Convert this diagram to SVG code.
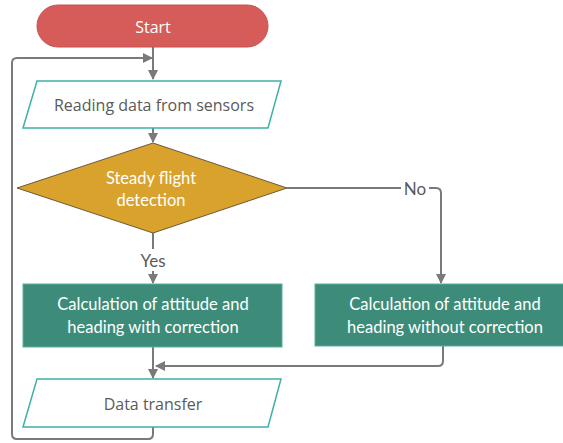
<svg xmlns="http://www.w3.org/2000/svg" width="563" height="443" viewBox="0 0 563 443">
  <style>
    .label { font-family: Lato, "Open Sans", "Liberation Sans", sans-serif; font-size: 16.5px; text-anchor: middle; dominant-baseline: central; }
    .sans { font-family: "Open Sans", Lato, "Liberation Sans", sans-serif; font-size: 16px; }
    .light { fill: #ffffff; }
    .dark { fill: #5a5a5a; }
    .io { fill: #ffffff; stroke: #3fb0a4; stroke-width: 1.5; }
    .proc { fill: #3d8c79; stroke: #5ab0a0; stroke-width: 1; }
    .conn { fill: none; stroke: #7a7a7a; stroke-width: 2; }
  </style>
  <defs>
    <marker id="arrow" viewBox="0 0 10 10" refX="9" refY="5" markerWidth="5" markerHeight="5" orient="auto">
      <path d="M0,0 L10,5 L0,10 z" fill="#7a7a7a"/>
    </marker>
  </defs>
  <rect width="563" height="443" fill="#ffffff"/>

  <g id="connectors">
    <path class="conn" d="M153,47 V79" marker-end="url(#arrow)"/>
    <path class="conn" d="M153,128 V142" marker-end="url(#arrow)"/>
    <path class="conn" d="M153,233 V249"/>
    <path class="conn" d="M153,271 V283" marker-end="url(#arrow)"/>
    <path class="conn" d="M287,188 H401"/>
    <path class="conn" d="M429,188 H436 Q441,188 441,193 V283" marker-end="url(#arrow)"/>
    <path class="conn" d="M153,347 V378" marker-end="url(#arrow)"/>
    <path class="conn" d="M443,346 V361 Q443,366 438,366 H156" marker-end="url(#arrow)"/>
    <path class="conn" d="M153,427 V434 Q153,439 148,439 H17 Q12,439 12,434 V63 Q12,58 17,58 H152" marker-end="url(#arrow)"/>
    <text class="label dark" x="153" y="260" style="font-size:17px">Yes</text>
    <text class="label dark" x="415" y="188" style="font-size:17px">No</text>
  </g>

  <g id="start">
    <rect x="37" y="5" width="231" height="42" rx="21" fill="#d65c5a" stroke="#c85050" stroke-width="1"/>
    <text class="label sans light" x="153" y="27">Start</text>
  </g>

  <g id="read-sensors">
    <polygon class="io" points="37,81 281,81 268,128 23,128"/>
    <text class="label sans dark" x="154" y="105">Reading data from sensors</text>
  </g>

  <g id="steady-flight">
    <polygon points="153,143 287,188 153,233 17,188" fill="#d9a22c" stroke="#6b5a3a" stroke-width="1"/>
    <text class="label light" x="151" y="178">Steady flight</text>
    <text class="label light" x="151" y="200">detection</text>
  </g>

  <g id="calc-with-correction">
    <rect class="proc" x="23" y="284" width="259" height="63"/>
    <text class="label light" x="153" y="304">Calculation of attitude and</text>
    <text class="label light" x="153" y="327">heading with correction</text>
  </g>

  <g id="calc-without-correction">
    <rect class="proc" x="315" y="284" width="250" height="62"/>
    <text class="label light" x="445" y="304">Calculation of attitude and</text>
    <text class="label light" x="445" y="327">heading without correction</text>
  </g>

  <g id="data-transfer">
    <polygon class="io" points="37,379 281,379 268,427 23,427"/>
    <text class="label sans dark" x="153" y="404">Data transfer</text>
  </g>
</svg>
